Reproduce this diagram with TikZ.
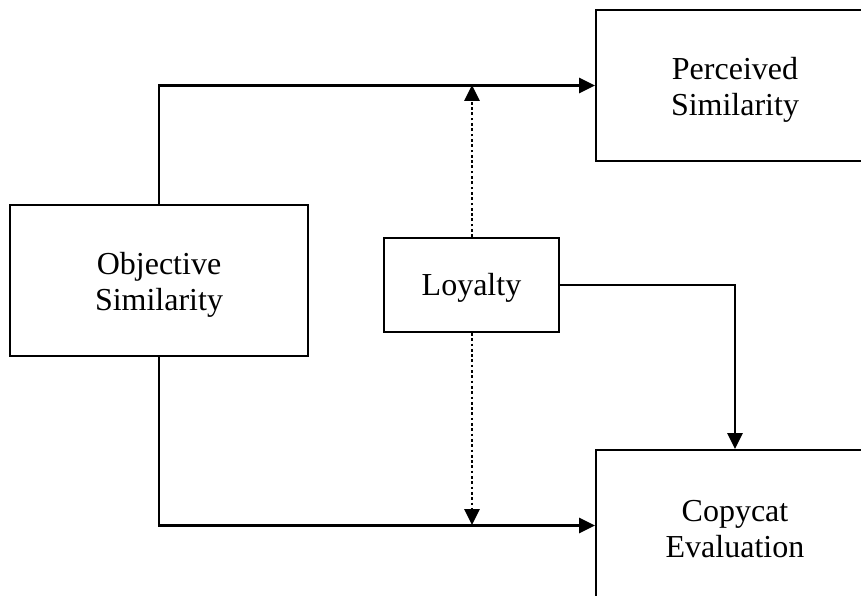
\documentclass[tikz,border=0pt]{standalone}
\usepackage{fontspec}
\setmainfont{Liberation Serif}
\usetikzlibrary{arrows.meta}
\begin{document}
\begin{tikzpicture}[x=1bp,y=-1bp,
  box/.style={draw, line width=1.8bp, rectangle, inner sep=0pt},
  label/.style={align=center, inner sep=0pt, yshift=-4bp,
    font=\fontsize{32bp}{36bp}\selectfont},
  link/.style={line width=2.8bp, -{Triangle[length=16bp,width=15bp]}},
  dotlink/.style={line width=2.8bp, dash pattern=on 2.7bp off 2.6bp,
    -{Triangle[length=16bp,width=15bp]}}]
\useasboundingbox (0,0) rectangle (861,596);
\begin{scope}
\clip (0,0) rectangle (861,596);
% boxes
\node[box, minimum width=298bp, minimum height=151bp] (obj) at (159,280.5) {};
\node[box, minimum width=278bp, minimum height=151bp] (perc) at (735,85.5) {};
\node[box, minimum width=278bp, minimum height=151bp] (copy) at (735,525.5) {};
\node[box, minimum width=175bp, minimum height=94bp] (loy) at (471.5,285) {};
% box texts
\node[label] (objtext) at (obj.center) {Objective\\Similarity};
\node[label] (perctext) at (perc.center) {Perceived\\Similarity};
\node[label] (copytext) at (copy.center) {Copycat\\Evaluation};
\node[label, yshift=1bp] (loytext) at (loy.center) {Loyalty};
% coordinates on the two main paths
\coordinate (up) at (472,85);
\coordinate (down) at (472,525);
% objective similarity to the two outcomes
\draw[link] (obj.north) |- (perc.west);
\draw[link] (obj.south) |- (copy.west);
% loyalty moderating both paths
\draw[dotlink] (loy.north -| up) -- (up);
\draw[dotlink] (loy.south -| down) -- (down);
% loyalty to copycat evaluation
\draw[link] (loy.east) -| (copy.north);
\end{scope}
\end{tikzpicture}
\end{document}
